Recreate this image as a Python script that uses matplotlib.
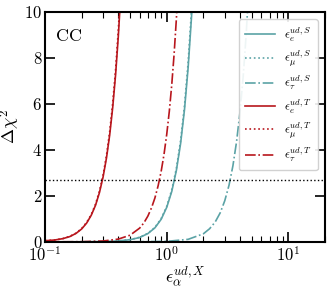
import matplotlib
matplotlib.use('Agg')
import matplotlib.pyplot as plt

plt.rcParams['mathtext.fontset'] = 'cm'
plt.rcParams['font.family'] = 'serif'
plt.rcParams['font.serif'] = ['cmr10', 'DejaVu Serif']
plt.rcParams['axes.formatter.use_mathtext'] = True

# tensor curves (red)
eps_T = [0.10, 0.12, 0.14, 0.16, 0.18, 0.20, 0.22, 0.24, 0.26, 0.28, 0.30,
         0.32, 0.34, 0.36, 0.38, 0.40, 0.42]
chi_eT = [0.05, 0.08, 0.14, 0.23, 0.37, 0.56, 0.82, 1.16, 1.59, 2.14, 2.82,
          3.65, 4.65, 5.85, 7.26, 8.92, 10.84]
chi_muT = [0.05, 0.08, 0.14, 0.24, 0.38, 0.58, 0.85, 1.19, 1.64, 2.20, 2.90,
           3.76, 4.79, 6.03, 7.48, 9.19, 11.17]
eps_tauT = [0.10, 0.20, 0.30, 0.40, 0.50, 0.60, 0.65, 0.70, 0.75, 0.80, 0.85,
            0.90, 0.95, 1.00, 1.05, 1.10, 1.15, 1.20, 1.25]
chi_tauT = [0.0005, 0.0075, 0.038, 0.12, 0.29, 0.60, 0.83, 1.12, 1.48, 1.91,
            2.44, 3.06, 3.80, 4.67, 5.67, 6.83, 8.16, 9.68, 11.39]

# scalar curves (teal)
eps_S = [0.10, 0.20, 0.30, 0.40, 0.50, 0.60, 0.70, 0.80, 0.90, 1.00, 1.10,
         1.20, 1.30, 1.40, 1.50, 1.60, 1.70]
chi_eS = [0.0002, 0.0024, 0.012, 0.038, 0.094, 0.19, 0.36, 0.61, 0.98, 1.50,
          2.19, 3.10, 4.27, 5.75, 7.58, 9.81, 12.5]
chi_muS = [0.0002, 0.0025, 0.012, 0.039, 0.097, 0.20, 0.37, 0.63, 1.01, 1.54,
           2.26, 3.19, 4.40, 5.92, 7.81, 10.10, 12.9]
eps_tauS = [0.10, 0.50, 1.00, 1.50, 2.00, 2.25, 2.50, 2.75, 3.00, 3.25, 3.50,
            3.75, 4.00, 4.25, 4.50, 4.75, 5.00]
chi_tauS = [0.0, 0.0014, 0.022, 0.11, 0.35, 0.57, 0.86, 1.26, 1.79, 2.46,
            3.31, 4.36, 5.64, 7.19, 9.04, 11.22, 13.77]

chi2_cut = 2.71

teal = '#5ba3a6'
red = '#b8161d'

fig = plt.figure(figsize=(3.31, 2.90), dpi=100)
ax = fig.add_axes([0.136, 0.166, 0.846, 0.793])

ax.plot(eps_S, chi_eS, color=teal, lw=1.2, ls='-', label=r'$\epsilon_e^{ud,S}$')
ax.plot(eps_S, chi_muS, color=teal, lw=1.2, ls=':', label=r'$\epsilon_\mu^{ud,S}$')
ax.plot(eps_tauS, chi_tauS, color=teal, lw=1.2, ls='-.', label=r'$\epsilon_\tau^{ud,S}$')
ax.plot(eps_T, chi_eT, color=red, lw=1.2, ls='-', label=r'$\epsilon_e^{ud,T}$')
ax.plot(eps_T, chi_muT, color=red, lw=1.2, ls=':', label=r'$\epsilon_\mu^{ud,T}$')
ax.plot(eps_tauT, chi_tauT, color=red, lw=1.2, ls='-.', label=r'$\epsilon_\tau^{ud,T}$')

ax.axhline(chi2_cut, color='black', ls=':', lw=1.0)

ax.set_xscale('log')
ax.set_xlim(0.1, 20)
ax.set_ylim(0, 10)
ax.set_yticks([0, 2, 4, 6, 8, 10])

ax.text(0.035, 0.93, r'$\mathrm{CC}$', transform=ax.transAxes, fontsize=13,
        va='top', ha='left')

ax.set_xlabel(r'$\epsilon_\alpha^{ud,X}$', fontsize=13, labelpad=0)
ax.set_ylabel(r'$\Delta\chi^2$', fontsize=13, labelpad=2)

ax.tick_params(which='both', direction='in', top=True, right=True, labelsize=12,
               pad=2)
ax.tick_params(which='major', length=7, width=1.2)
ax.tick_params(which='minor', length=4, width=0.8)
for s in ax.spines.values():
    s.set_linewidth(1.5)

leg = ax.legend(loc='upper right', fontsize=9, handlelength=2.4,
                labelspacing=0.4, borderpad=0.5, handletextpad=0.7,
                framealpha=0.9, edgecolor='#cccccc', fancybox=True,
                borderaxespad=0.6)

fig.savefig('out.png', dpi=100)
